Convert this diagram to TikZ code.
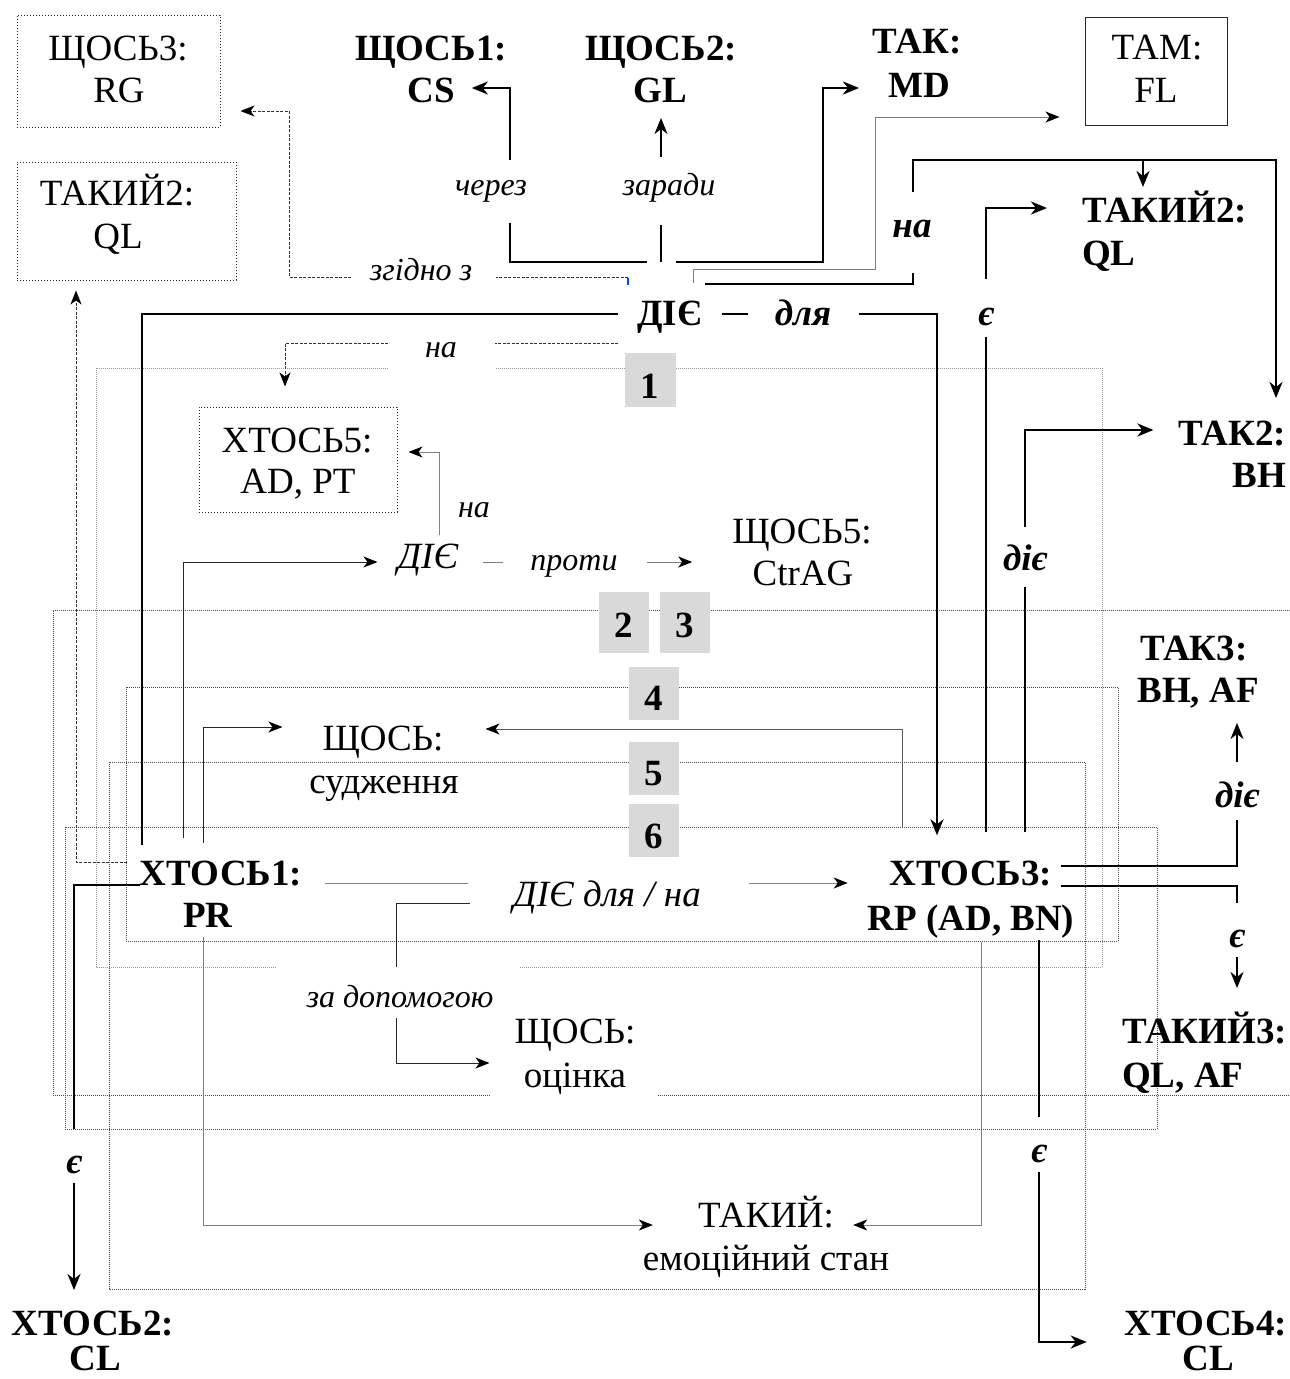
\documentclass[tikz,border=0pt]{standalone}
\usepackage{fontspec}
\setmainfont{Liberation Serif}
\usetikzlibrary{arrows.meta}
\newcommand\fm{\fontsize{37}{44}\selectfont}
\newcommand\fl{\fontsize{32}{38}\selectfont}
\tikzset{
 txt/.style={inner sep=0pt, anchor=base, font=\fm},
 btxt/.style={inner sep=0pt, anchor=base, font=\fm\bfseries},
 itx/.style={inner sep=0pt, anchor=base, font=\fm\itshape},
 lbl/.style={inner sep=0pt, anchor=base, font=\fl\itshape},
 blbl/.style={inner sep=0pt, anchor=base, font=\fm\bfseries\itshape},
 numbox/.style={fill=black!15, minimum width=51pt, inner sep=0pt},
 dbox/.style={draw=black!85, dotted, line width=1pt, inner sep=0pt},
 frameA/.style={black!40, densely dotted, line width=1pt},
 frameB/.style={black!70, densely dotted, line width=1pt},
 boldl/.style={line width=2.7pt, black},
 medl/.style={line width=2.2pt, black},
 thinl/.style={line width=0.9pt, black!85},
 grayl/.style={line width=1pt, black!50},
 dashl/.style={line width=0.9pt, black!80, dash pattern=on 3pt off 1.5pt},
 arrB/.style={-{Stealth[length=16pt,width=13pt,inset=5pt]}},
 arrT/.style={-{Stealth[length=14pt,width=11pt,inset=4pt,color=black]}},
}
\begin{document}
\begin{tikzpicture}[x=1pt,y=-1pt]
\fill[white] (0,0) rectangle (1290,1379);
\useasboundingbox (0,0) rectangle (1290,1379);

% ---------- frames ----------
\draw[frameB] (1290,610) -- (53,610) -- (53,1095) -- (490,1095);
\draw[frameB] (658,1095) -- (1290,1095);
\draw[frameA] (388,368) -- (96,368) -- (96,967) -- (277,967);
\draw[frameA] (520,967) -- (1102,967) -- (1102,368) -- (495,368);
\draw[frameB] (126,687) rectangle (1118,941);
\draw[frameB] (109,762) rectangle (1085,1289);
\draw[frameB] (65,827) rectangle (1157,1129);

% ---------- nodes ----------
\node[dbox, minimum width=203pt, minimum height=112pt] (s3box) at (118.5,71) {};
\node[txt] (s3a) at (118,60) {ЩОСЬ3:};
\node[txt] (s3b) at (119,102) {RG};
\node[dbox, minimum width=219pt, minimum height=118pt] (k2lbox) at (126.5,221) {};
\node[txt] (k2la) at (117,205) {ТАКИЙ2:};
\node[txt] (k2lb) at (118,248) {QL};

\node[btxt] (s1a) at (431,60) {ЩОСЬ1:};
\node[btxt] (s1b) at (431,102) {CS};
\node[btxt] (s2a) at (661,60) {ЩОСЬ2:};
\node[btxt] (s2b) at (660,102) {GL};
\node[btxt] (ta) at (917,53) {ТАК:};
\node[btxt] (tb) at (919,97) {MD};
\node[draw=black!85, line width=1pt, minimum width=142pt, minimum height=108pt, inner sep=0pt] (tmbox) at (1156,71) {};
\node[txt] (tma) at (1157,59) {ТАМ:};
\node[txt] (tmb) at (1156,102) {FL};

\node[btxt, anchor=base west] (k2ra) at (1082,222) {ТАКИЙ2:};
\node[btxt, anchor=base west] (k2rb) at (1082,265) {QL};
\node[btxt, anchor=base east] (tak2a) at (1286,445) {ТАК2:};
\node[btxt, anchor=base east] (tak2b) at (1286,487) {BH};
\node[btxt] (tak3a) at (1194,660) {ТАК3:};
\node[btxt] (tak3b) at (1198,702) {BH, AF};
\node[btxt, anchor=base west] (k3a) at (1122,1043) {ТАКИЙ3:};
\node[btxt, anchor=base west] (k3b) at (1122,1087) {QL, AF};
\node[btxt] (x4a) at (1206,1335) {ХТОСЬ4:};
\node[btxt] (x4b) at (1208,1370) {CL};
\node[btxt] (x2a) at (93,1335) {ХТОСЬ2:};
\node[btxt] (x2b) at (95,1370) {CL};
\node[btxt] (x1a) at (221,885) {ХТОСЬ1:};
\node[btxt] (x1b) at (208,927) {PR};
\node[btxt] (x3a) at (971,885) {ХТОСЬ3:};
\node[btxt] (x3b) at (971,930) {RP (AD, BN)};

\node[btxt] (die) at (670,325) {ДІЄ};
\node[blbl] (dlya) at (803,325) {для};
\node[dbox, minimum width=198pt, minimum height=105pt] (x5box) at (298,459.5) {};
\node[txt] (x5a) at (297,452) {ХТОСЬ5:};
\node[txt] (x5b) at (298,493) {AD, PT};
\node[itx] (diei) at (428,568) {ДІЄ};
\node[lbl] (proty) at (574,570) {проти};
\node[txt] (s5a) at (802,543) {ЩОСЬ5:};
\node[txt] (s5b) at (803,585) {CtrAG};
\node[txt] (sja) at (383,750) {ЩОСЬ:};
\node[txt] (sjb) at (384,793) {судження};
\node[itx] (dlna) at (607,906) {ДІЄ для / на};
\node[lbl] (zadop) at (400,1007) {за допомогою};
\node[txt] (soa) at (575,1043) {ЩОСЬ:};
\node[txt] (sob) at (575,1087) {оцінка};
\node[txt] (tea) at (766,1227) {ТАКИЙ:};
\node[txt] (teb) at (766,1270) {емоційний стан};

% labels
\node[lbl] (cherez) at (491,195) {через};
\node[lbl] (zaradi) at (669,195) {заради};
\node[blbl] (na1) at (912,237) {на};
\node[blbl] (ye1) at (986,325) {є};
\node[lbl] (zgidno) at (421,280) {згідно з};
\node[lbl] (na2) at (441,357) {на};
\node[lbl] (na3) at (474,517) {на};
\node[blbl] (diie1) at (1025,570) {діє};
\node[blbl] (diie2) at (1237,807) {діє};
\node[blbl] (ye2) at (1237,947) {є};
\node[blbl] (ye3) at (1039,1162) {є};
\node[blbl] (ye4) at (74,1173) {є};

% number boxes
\node[numbox, minimum height=54pt] (n1) at (650,380) {};
\node[btxt] (n1t) at (650,398) {1};
\node[numbox, minimum height=61pt, minimum width=50pt] (n2) at (624,622.5) {};
\node[btxt] (n2t) at (624,637) {2};
\node[numbox, minimum height=61pt, minimum width=50pt] (n3) at (685,622.5) {};
\node[btxt] (n3t) at (685,637) {3};
\node[numbox, minimum height=53pt, minimum width=50pt] (n4) at (654,693.5) {};
\node[btxt] (n4t) at (654,710) {4};
\node[numbox, minimum height=53pt, minimum width=50pt] (n5) at (654,768.5) {};
\node[btxt] (n5t) at (654,785) {5};
\node[numbox, minimum height=53pt, minimum width=50pt] (n6) at (654,830.5) {};
\node[btxt] (n6t) at (654,848) {6};

% ---------- coordinates ----------
\coordinate (c1a) at (647,262); \coordinate (c1b) at (510,262); \coordinate (c1c) at (510,223);
\coordinate (c1d) at (510,160); \coordinate (c1e) at (510,88);
\coordinate (c2a) at (661,262); \coordinate (c2b) at (661,225); \coordinate (c2c) at (661,157);
\coordinate (c3a) at (676,262); \coordinate (c3b) at (823,262); \coordinate (c3c) at (823,88);
\coordinate (c4a) at (693,283); \coordinate (c4b) at (693,269); \coordinate (c4c) at (875,269); \coordinate (c4d) at (875,117);
\coordinate (c5a) at (705,284); \coordinate (c5b) at (913,284); \coordinate (c5c) at (913,273);
\coordinate (c5d) at (913,192); \coordinate (c5e) at (913,160); \coordinate (c5f) at (1276,160); \coordinate (c5g) at (1143,160);
\coordinate (c6a) at (986,832); \coordinate (c6b) at (986,337); \coordinate (c6c) at (986,279); \coordinate (c6d) at (986,208);
\coordinate (c7a) at (618,314); \coordinate (c7b) at (142,314);
\coordinate (c7f) at (722,314); \coordinate (c7g) at (748,314);
\coordinate (c7d) at (859,314); \coordinate (c7e) at (937,314);
\coordinate (c8a) at (1025,832); \coordinate (c8b) at (1025,587); \coordinate (c8c) at (1025,527); \coordinate (c8d) at (1025,430);
\coordinate (c9a) at (628,277); \coordinate (c9b) at (496,277); \coordinate (c9c) at (351,277); \coordinate (c9d) at (289,277); \coordinate (c9e) at (289,111);
\coordinate (c10a) at (618,343); \coordinate (c10b) at (495,343); \coordinate (c10c) at (388,343); \coordinate (c10d) at (285,343);
\coordinate (c11a) at (439,535); \coordinate (c11b) at (439,452);
\coordinate (c12a) at (183,838); \coordinate (c12b) at (183,562);
\coordinate (c13a) at (483,562); \coordinate (c13b) at (503,562); \coordinate (c13c) at (647,562);
\coordinate (c14a) at (203,843); \coordinate (c14b) at (203,727);
\coordinate (c15a) at (902,827); \coordinate (c15b) at (902,729);
\coordinate (c16a) at (325,883); \coordinate (c16b) at (468,883); \coordinate (c16c) at (749,883);
\coordinate (c17a) at (470,903); \coordinate (c17b) at (396,903); \coordinate (c17c) at (396,967);
\coordinate (c17d) at (396,1018); \coordinate (c17e) at (396,1063);
\coordinate (c18a) at (203,937); \coordinate (c18b) at (203,1225);
\coordinate (c19a) at (981,942); \coordinate (c19b) at (981,1225);
\coordinate (c20a) at (1061,866); \coordinate (c20b) at (1237,866); \coordinate (c20c) at (1237,820); \coordinate (c20d) at (1237,762);
\coordinate (c21a) at (1061,886); \coordinate (c21b) at (1237,886); \coordinate (c21c) at (1237,903); \coordinate (c21d) at (1237,957);
\coordinate (c22a) at (1039,940); \coordinate (c22b) at (1039,1117); \coordinate (c22c) at (1039,1172); \coordinate (c22d) at (1039,1342);
\coordinate (c23a) at (140,885); \coordinate (c23b) at (74,885); \coordinate (c23c) at (74,1129); \coordinate (c23d) at (74,1183);
\coordinate (c24a) at (127,862); \coordinate (c24b) at (76,862);

% ---------- connectors ----------
% через -> ЩОСЬ1
\draw[medl] (c1a) -- (c1b) -- (c1c);
\draw[medl, arrB, shorten >=17pt] (c1d) -- (c1e) -- (s1b.east |- c1e);
% заради -> ЩОСЬ2
\draw[medl] (c2a) -- (c2b);
\draw[medl, arrB, shorten >=16pt] (c2c) -- (c2c |- s2b.base);
% -> ТАК: MD
\draw[boldl, arrB, shorten >=29pt] (c3a) -- (c3b) -- (c3c) -- (tb.west |- c3c);
% -> ТАМ: FL
\draw[grayl, arrT, shorten >=25pt] (c4a) -- (c4b) -- (c4c) -- (c4d) -- (tmbox.west |- c4d);
% на -> ТАК2 / ТАКИЙ2
\draw[boldl] (c5a) -- (c5b) -- (c5c);
\draw[boldl, arrB, shorten >=47pt] (c5d) -- (c5e) -- (c5f) -- (c5f |- tak2a.base);
\draw[medl, arrB, shorten >=35pt] (c5g) -- (c5g |- k2ra.base);
% є -> ТАКИЙ2
\draw[boldl] (c6a) -- (c6b);
\draw[boldl, arrB, shorten >=35pt] (c6c) -- (c6d) -- (k2ra.west |- c6d);
% ДІЄ -> ХТОСЬ1, ДІЄ для -> ХТОСЬ3
\draw[boldl, shorten >=15pt] (c7a) -- (c7b) -- (c7b |- x1a.north);
\draw[boldl] (c7f) -- (c7g);
\draw[boldl, arrB, shorten >=25pt] (c7d) -- (c7e) -- (c7e |- x3a.north);
% діє -> ТАК2
\draw[boldl] (c8a) -- (c8b);
\draw[boldl, arrB, shorten >=25pt] (c8c) -- (c8d) -- (tak2a.west |- c8d);
% згідно з -> ЩОСЬ3
\draw[dashl] (c9a) -- (c9b);
\draw[dashl, arrT, shorten >=20pt] (c9c) -- (c9d) -- (c9e) -- (s3box.east |- c9e);
\draw[blue!70!cyan, line width=1.3pt] (628,278) -- (628,285);
% на -> ХТОСЬ5
\draw[dashl] (c10a) -- (c10b);
\draw[dashl, arrT, shorten >=20pt] (c10c) -- (c10d) -- (c10d |- x5box.north);
\draw[grayl, arrT, shorten >=11pt] (c11a) -- (c11b) -- (x5box.east |- c11b);
% ХТОСЬ1 -> ДІЄ (italic)
\draw[thinl, arrT, shorten >=20pt] (c12a) -- (c12b) -- (diei.west |- c12b);
\draw[grayl] (c13a) -- (c13b);
\draw[grayl, arrT, shorten >=40pt] (c13c) -- (s5a.west |- c13c);
% -> ЩОСЬ: судження
\draw[thinl, arrT, shorten >=40pt] (c14a) -- (c14b) -- (sja.west |- c14b);
\draw[line width=1pt, black!65, arrT, shorten >=42pt] (c15a) -- (c15b) -- (sja.east |- c15b);
% ХТОСЬ1 -> ДІЄ для / на -> ХТОСЬ3
\draw[grayl] (c16a) -- (c16b);
\draw[grayl, arrT, shorten >=42pt] (c16c) -- (x3a.west |- c16c);
% за допомогою -> оцінка
\draw[thinl] (c17a) -- (c17b) -- (c17c);
\draw[thinl, arrT, shorten >=25pt] (c17d) -- (c17e) -- (soa.west |- c17e);
% -> ТАКИЙ: емоційний стан
\draw[grayl, arrT, shorten >=45pt] (c18a) -- (c18b) -- (tea.west |- c18b);
\draw[grayl, arrT, shorten >=19pt] (c19a) -- (c19b) -- (tea.east |- c19b);
% ХТОСЬ3 -> ТАК3, ТАКИЙ3
\draw[boldl] (c20a) -- (c20b) -- (c20c);
\draw[medl, arrB, shorten >=21pt] (c20d) -- (c20d |- tak3b.base);
\draw[boldl] (c21a) -- (c21b) -- (c21c);
\draw[medl, arrB, shorten >=55pt] (c21d) -- (c21d |- k3a.base);
% ХТОСЬ3 -> ХТОСЬ4
\draw[boldl] (c22a) -- (c22b);
\draw[boldl, arrB, shorten >=38pt] (c22c) -- (c22d) -- (x4a.west |- c22d);
% ХТОСЬ1 -> ХТОСЬ2
\draw[boldl] (c23a) -- (c23b) -- (c23c);
\draw[medl, arrB, shorten >=45pt] (c23d) -- (c23d |- x2a.base);
% ХТОСЬ1 -> ТАКИЙ2 (left)
\draw[dashl, arrT, shorten >=10pt] (c24a) -- (c24b) -- (c24b |- k2lbox.south);
\end{tikzpicture}
\end{document}
